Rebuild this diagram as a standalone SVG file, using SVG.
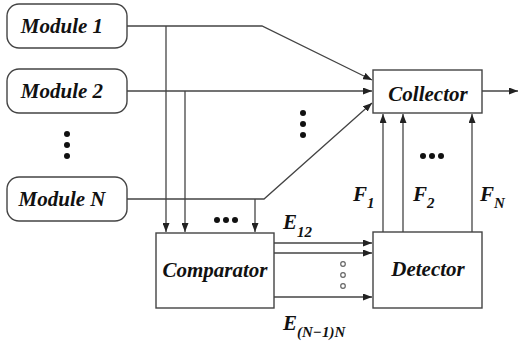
<svg xmlns="http://www.w3.org/2000/svg" width="520" height="345" viewBox="0 0 520 345">
<style>
.box{fill:#fff;stroke:#444;stroke-width:1.4}
.t{font-family:'Liberation Serif',serif;font-weight:700;font-style:italic;font-size:21px;fill:#111;text-anchor:middle}
.l{text-anchor:start}
.s{font-size:15px}
.c{fill:none;stroke:#444;stroke-width:1.3}
.d{fill:#111}
.o{fill:#fff;stroke:#666;stroke-width:1.2}
</style>
<defs>
<marker id="a" markerWidth="9" markerHeight="7" refX="9" refY="3.5" orient="auto" markerUnits="userSpaceOnUse">
<path d="M0,0 L9,3.5 L0,7 Z" fill="#222"/>
</marker>
</defs>
<rect width="520" height="345" fill="#fff"/>
<g id="connectors">
<path class="c" d="M127,26 H262 L372,80" marker-end="url(#a)"/>
<path class="c" d="M127,91 H372" marker-end="url(#a)"/>
<path class="c" d="M127,199 H264 L372,103" marker-end="url(#a)"/>
<path class="c" d="M482,91 H518" marker-end="url(#a)"/>
<path class="c" d="M166,26 V232" marker-end="url(#a)"/>
<path class="c" d="M185,91 V232" marker-end="url(#a)"/>
<path class="c" d="M255,199 V232" marker-end="url(#a)"/>
<path class="c" d="M383,232 V114" marker-end="url(#a)"/>
<path class="c" d="M403,232 V114" marker-end="url(#a)"/>
<path class="c" d="M472,232 V114" marker-end="url(#a)"/>
<path class="c" d="M274,243 H372" marker-end="url(#a)"/>
<path class="c" d="M274,253 H372" marker-end="url(#a)"/>
<path class="c" d="M274,297 H372" marker-end="url(#a)"/>
</g>
<g id="module1"><rect class="box" x="7" y="4" width="120" height="44" rx="12"/><text class="t" x="62" y="33">Module 1</text></g>
<g id="module2"><rect class="box" x="7" y="69" width="120" height="44" rx="12"/><text class="t" x="62" y="98">Module 2</text></g>
<g id="moduleN"><rect class="box" x="7" y="177" width="120" height="44" rx="12"/><text class="t" x="62" y="206">Module N</text></g>
<g id="collector"><rect class="box" x="373" y="70" width="109" height="43"/><text class="t" x="428" y="101">Collector</text></g>
<g id="comparator"><rect class="box" x="156" y="233" width="118" height="75"/><text class="t" x="215" y="277">Comparator</text></g>
<g id="detector"><rect class="box" x="373" y="232" width="109" height="76"/><text class="t" x="428" y="276">Detector</text></g>
<g id="dots">
<circle class="d" cx="67" cy="134" r="3"/><circle class="d" cx="67" cy="145" r="3"/><circle class="d" cx="67" cy="156" r="3"/>
<circle class="d" cx="303" cy="113" r="3"/><circle class="d" cx="303" cy="124" r="3"/><circle class="d" cx="303" cy="135" r="3"/>
<circle class="d" cx="217" cy="220" r="3"/><circle class="d" cx="226" cy="220" r="3"/><circle class="d" cx="235" cy="220" r="3"/>
<circle class="d" cx="423" cy="156" r="3"/><circle class="d" cx="432" cy="156" r="3"/><circle class="d" cx="441" cy="156" r="3"/>
<circle class="o" cx="343" cy="264" r="2.3"/><circle class="o" cx="343" cy="275" r="2.3"/><circle class="o" cx="343" cy="286" r="2.3"/>
</g>
<g id="labels">
<text class="t l" x="353" y="201">F<tspan class="s" dy="7">1</tspan></text>
<text class="t l" x="413" y="201">F<tspan class="s" dy="7">2</tspan></text>
<text class="t l" x="480" y="201">F<tspan class="s" dy="7">N</tspan></text>
<text class="t l" x="283" y="229">E<tspan class="s" dy="8">12</tspan></text>
<text class="t l" x="283" y="330">E<tspan class="s" dy="7">(N−1)N</tspan></text>
</g>
</svg>
